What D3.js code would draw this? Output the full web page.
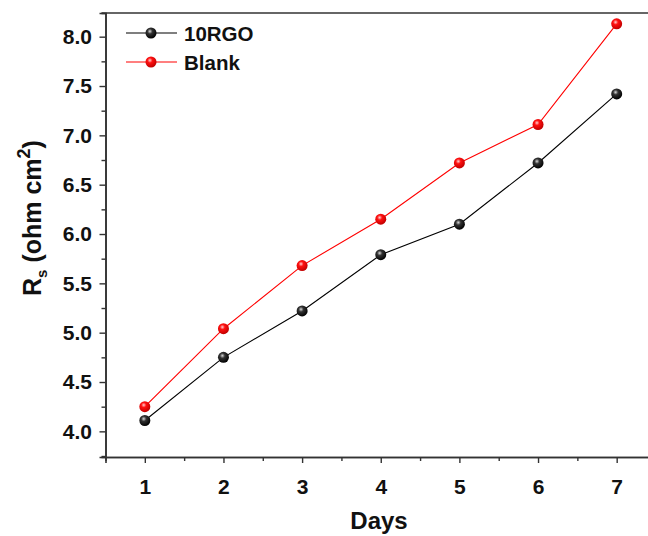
<!DOCTYPE html>
<html>
<head>
<meta charset="utf-8">
<script src="https://cdn.jsdelivr.net/npm/d3@7"></script>
<style>
  html, body { margin: 0; padding: 0; background: #fff; }
  svg { display: block; font-family: "Liberation Sans", Arial, sans-serif; }
</style>
</head>
<body>
<svg id="chart" width="648" height="536"></svg>
<script>
// ── 資料 ─────────────────────────────────────────────
const days      = [1, 2, 3, 4, 5, 6, 7];
const rgo10     = [4.11, 4.75, 5.22, 5.79, 6.10, 6.72, 7.42];
const blank     = [4.25, 5.04, 5.68, 6.15, 6.72, 7.11, 8.13];
const yTicks    = [4.0, 4.5, 5.0, 5.5, 6.0, 6.5, 7.0, 7.5, 8.0];
const seriesNames = ["10RGO", "Blank"];

const AXIS_COLOR = "#333";
const svg = d3.select("#chart");

const x = d3.scaleLinear().domain([0.5, 7.5]).range([105.5, 656]);
const y = d3.scaleLinear().domain([3.74, 8.24]).range([457, 13]);

// ── 球狀 marker 漸層 ─────────────────────────────────
const defs = svg.append("defs");
function mkGrad(id, light, mid, dark) {
  const g = defs.append("radialGradient").attr("id", id)
    .attr("cx", "40%").attr("cy", "35%").attr("r", "65%");
  g.append("stop").attr("offset", "0%").attr("stop-color", light);
  g.append("stop").attr("offset", "35%").attr("stop-color", mid);
  g.append("stop").attr("offset", "100%").attr("stop-color", dark);
}
mkGrad("g-black", "#d8d8d8", "#333", "#000");
mkGrad("g-red", "#ffd0d0", "#ff1010", "#c00000");

const series = [
  { name: seriesNames[0], values: rgo10, color: "#000", grad: "url(#g-black)" },
  { name: seriesNames[1], values: blank, color: "#ff0000", grad: "url(#g-red)" },
];

// ── 座標軸 ───────────────────────────────────────────
const xAxis = svg.append("g").attr("transform", "translate(0,457)")
  .call(d3.axisBottom(x).tickValues(days).tickSize(6).tickFormat(d3.format("d")));
const xMinor = svg.append("g").attr("transform", "translate(0,457)")
  .call(d3.axisBottom(x).tickValues(d3.range(1.5, 7.5, 1)).tickSize(4).tickFormat(""));
const yAxis = svg.append("g").attr("transform", "translate(105.5,0)")
  .call(d3.axisLeft(y).tickValues(yTicks).tickSize(6).tickFormat(d3.format(".1f")));
const yMinor = svg.append("g").attr("transform", "translate(105.5,0)")
  .call(d3.axisLeft(y).tickValues(d3.range(3.75, 8.25, 0.5)).tickSize(4).tickFormat(""));

[xAxis, xMinor, yAxis, yMinor].forEach(a => {
  a.select(".domain").attr("stroke", AXIS_COLOR).attr("stroke-width", 1.6);
  a.selectAll(".tick line").attr("stroke", AXIS_COLOR).attr("stroke-width", 1.4);
  a.selectAll(".tick text")
    .attr("fill", "#111").attr("font-size", 21).attr("font-weight", "bold")
    .attr("font-family", "'Liberation Sans', Arial, sans-serif");
});
xAxis.selectAll(".tick text").attr("y", 37).attr("dy", 0);
yAxis.selectAll(".tick text").attr("x", -13.5);

// 上框線
svg.append("line")
  .attr("x1", x(0.5) - 4).attr("x2", x(7.5))
  .attr("y1", y(8.24)).attr("y2", y(8.24))
  .attr("stroke", AXIS_COLOR).attr("stroke-width", 1.6);
svg.append("line")
  .attr("x1", x(7.5)).attr("x2", x(7.5))
  .attr("y1", y(8.24)).attr("y2", y(3.74))
  .attr("stroke", AXIS_COLOR).attr("stroke-width", 1.6);

// ── 資料線與點 ───────────────────────────────────────
const line = d3.line().x((d, i) => x(days[i])).y(d => y(d));
series.forEach(s => {
  svg.append("path")
    .attr("d", line(s.values))
    .attr("fill", "none")
    .attr("stroke", s.color)
    .attr("stroke-width", 1.1);
  svg.append("g").selectAll("circle").data(s.values).join("circle")
    .attr("cx", (d, i) => x(days[i]))
    .attr("cy", d => y(d))
    .attr("r", 5.5)
    .attr("fill", s.grad);
});

// ── 圖例 ─────────────────────────────────────────────
series.forEach((s, i) => {
  const ly = 33 + i * 29;
  svg.append("line").attr("x1", 126).attr("x2", 177).attr("y1", ly).attr("y2", ly)
    .attr("stroke", s.color).attr("stroke-width", 1.1);
  svg.append("circle").attr("cx", 151).attr("cy", ly).attr("r", 5.5).attr("fill", s.grad);
  svg.append("text").attr("x", 184).attr("y", ly + 7.5)
    .attr("font-size", 20.5).attr("font-weight", "bold").attr("fill", "#111")
    .text(s.name);
});

// ── 軸標題 ───────────────────────────────────────────
svg.append("text")
  .attr("x", 379).attr("y", 529)
  .attr("text-anchor", "middle")
  .attr("font-size", 24).attr("font-weight", "bold").attr("fill", "#111")
  .text("Days");

const yt = svg.append("text")
  .attr("transform", "translate(41,218) rotate(-90)")
  .attr("text-anchor", "middle")
  .attr("font-size", 25).attr("font-weight", "bold").attr("fill", "#111");
yt.append("tspan").text("R");
yt.append("tspan").attr("font-size", 15).attr("dy", 6).text("s");
yt.append("tspan").attr("dy", -6).text(" (ohm cm");
yt.append("tspan").attr("font-size", 18).attr("dy", -11).text("2");
yt.append("tspan").attr("dy", 11).text(")");
</script>
</body>
</html>
